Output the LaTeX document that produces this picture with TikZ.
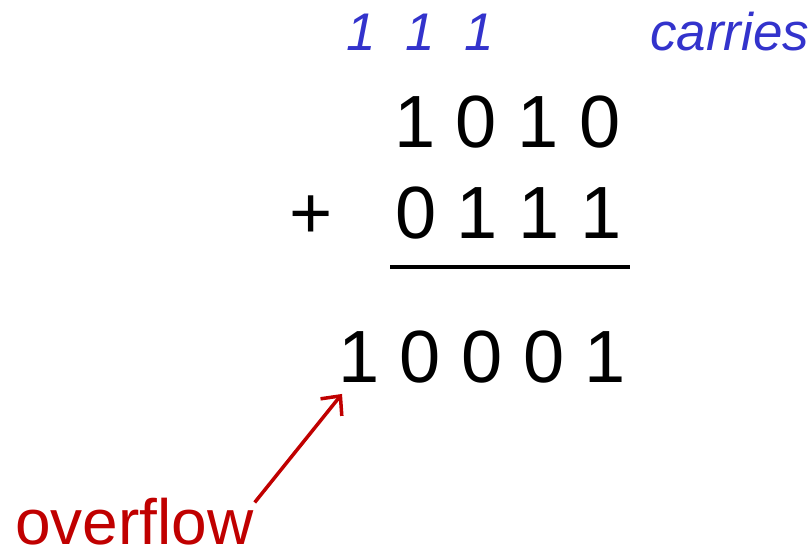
\documentclass[tikz,border=0pt]{standalone}
\usepackage{fontspec}
\setmainfont{Liberation Sans}
\usetikzlibrary{arrows.meta}

\definecolor{carryblue}{HTML}{3333CC}
\definecolor{flowred}{HTML}{C00000}

\begin{document}
\begin{tikzpicture}[
  x=1pt, y=-1pt,
  digits/.style={inner sep=0pt, anchor=base west, font=\fontsize{74}{74}\selectfont},
  carry/.style={inner sep=0pt, anchor=base west, text=carryblue, font=\fontsize{53}{53}\selectfont\itshape},
  note/.style={inner sep=0pt, anchor=base west, text=flowred, font=\fontsize{64}{64}\selectfont},
  rule/.style={line width=3.5pt},
  flowarrow/.style={-{Straight Barb[length=7pt,width=13pt,scale=2.1]}, flowred, line width=3.5pt}
]
\useasboundingbox (0,0) rectangle (812,552);

% carries
\node[carry] (carries) at (346,50) {1\ \ 1\ \ 1};
\node[carry] (label) at (650,50) {carries};

% operands
\node[digits] (augend) at (394,147) {1 0 1 0};
\node[digits] (addend) at (395,238) {0 1 1 1};
\node[digits] (plus) at (289,238) {+};
\draw[rule] (390,267) -- (630,267);

% result
\node[digits] (sum) at (338,382) {1 0 0 0 1};

% overflow
\node[note] (overflow) at (15,544) {overflow};
\draw[flowarrow] ([shift={(1,5)}]overflow.north east) -- ([shift={(4,11)}]sum.south west);
\end{tikzpicture}
\end{document}
